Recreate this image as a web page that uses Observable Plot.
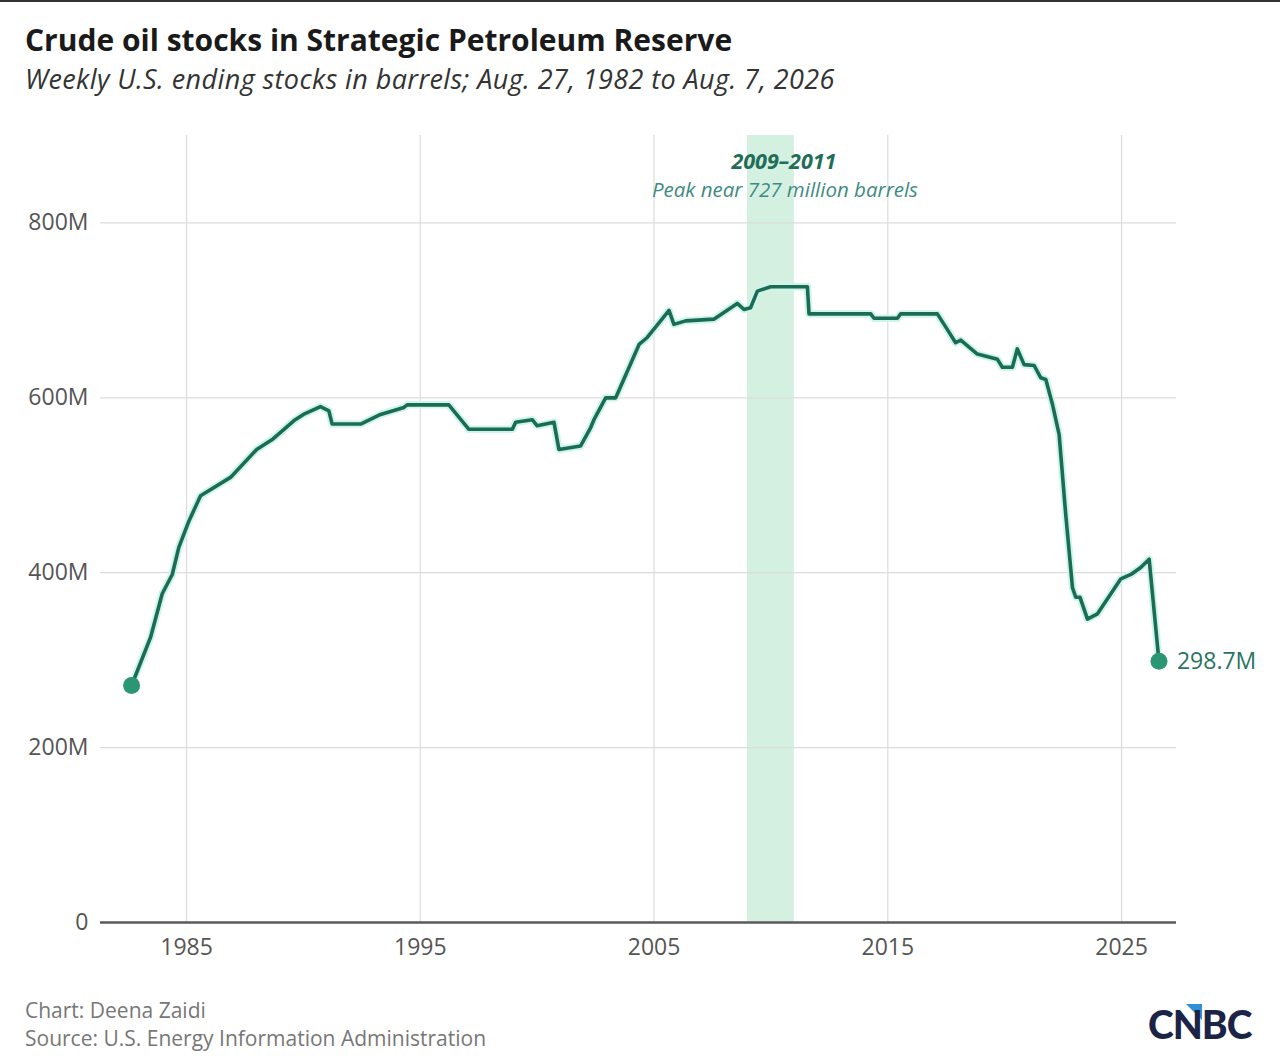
<!DOCTYPE html>
<html>
<head>
<meta charset="utf-8">
<script src="https://cdn.jsdelivr.net/npm/d3@7"></script>
<script src="https://cdn.jsdelivr.net/npm/@observablehq/plot@0.6"></script>
<style>
  html, body { margin:0; padding:0; background:#fff; }
  body { width:1280px; height:1060px; position:relative; overflow:hidden; font-family:"Open Sans", Lato, sans-serif; }
  #topline { position:absolute; left:0; top:0; width:1280px; height:2px; background:#333; }
  #title { position:absolute; left:25px; top:19px; font-size:30px; font-weight:700; color:#1a1a1a; white-space:nowrap; }
  #subtitle { position:absolute; left:25px; top:60px; font-size:27px; font-style:italic; color:#333; white-space:nowrap; letter-spacing:0.4px; }
  #chart { position:absolute; left:0; top:110px; }
  #credit { position:absolute; left:25px; top:996px; font-size:21px; color:#777; line-height:28px; }
  #logo { position:absolute; left:1146px; top:1002px; }
</style>
</head>
<body>
<div id="topline"></div>
<div id="title">Crude oil stocks in Strategic Petroleum Reserve</div>
<div id="subtitle">Weekly U.S. ending stocks in barrels; Aug. 27, 1982 to Aug. 7, 2026</div>
<div id="chart"></div>
<div id="credit">Chart: Deena Zaidi<br>Source: U.S. Energy Information Administration</div>
<svg id="logo" width="115" height="45" viewBox="0 0 115 45">
  <polygon points="40,2 56,2 56,18" fill="#2f8fd8"/>
  <text x="2" y="37" font-family="Lato, sans-serif" font-weight="900" font-size="39" fill="#1b2447" letter-spacing="-1">CNBC</text>
</svg>
<script>
// Decimal year of each reading and SPR stocks (million barrels)
const years = [
  1982.65, 1983.46, 1983.96, 1984.39, 1984.67, 1985.10, 1985.60, 1986.88, 1988.00, 1988.70,
  1989.60, 1990.00, 1990.73, 1991.09, 1991.23, 1992.45, 1993.30, 1994.30, 1994.44, 1996.22,
  1997.08, 1998.94, 1999.08, 1999.79, 2000.00, 2000.72, 2000.93, 2001.86, 2002.29, 2002.43,
  2002.93, 2003.36, 2004.36, 2004.71, 2005.28, 2005.64, 2005.85, 2006.35, 2007.56, 2008.56,
  2008.85, 2009.13, 2009.42, 2009.99, 2011.56, 2011.63, 2014.27, 2014.41, 2015.41, 2015.55,
  2017.12, 2017.55, 2017.90, 2018.12, 2018.83, 2019.69, 2019.90, 2020.33, 2020.54, 2020.83,
  2021.26, 2021.54, 2021.76, 2022.04, 2022.33, 2022.61, 2022.90, 2023.04, 2023.22, 2023.54,
  2023.97, 2024.97, 2025.40, 2025.82, 2026.18, 2026.60
];
const stocks = [
  271, 326, 376, 398, 429, 459, 488, 509, 541, 553,
  574, 581, 590, 585, 570, 570, 581, 589, 592, 592,
  564, 564, 572, 575, 568, 572, 541, 545, 566, 575,
  600, 600, 661, 669, 688, 700, 684, 688, 690, 708,
  701, 703, 722, 727, 727, 696, 696, 691, 691, 696,
  696, 678, 663, 666, 650, 644, 635, 635, 656, 638,
  637, 623, 621, 593, 558, 467, 383, 372, 372, 347,
  353, 393, 398, 406, 415.5, 298.7
];
const xTicks = [1985, 1995, 2005, 2015, 2025];
const yTicks = [0, 200, 400, 600, 800];
const yTickLabels = ["0", "200M", "400M", "600M", "800M"];
const bandStart = [2009];
const bandEnd = [2011];
const bandLabels = ["2009–2011", "Peak near 727 million barrels"];
const endLabel = "298.7M";

const series = years.map((y, i) => ({year: y, value: stocks[i]}));
const endpoints = [series[0], series[series.length - 1]];
const band = bandStart.map((s, i) => ({start: s, end: bandEnd[i], mid: (s + bandEnd[i]) / 2}));

const chart = Plot.plot({
  width: 1280,
  height: 870,
  marginTop: 25,
  marginBottom: 58,
  marginLeft: 100,
  marginRight: 104,
  style: {fontFamily: "'Open Sans', sans-serif", fontSize: "23px", color: "#555", background: "transparent", overflow: "visible"},
  x: {domain: [1981.32, 2027.35], label: null},
  y: {domain: [0, 900], label: null},
  marks: [
    Plot.rect(band, {x1: "start", x2: "end", fill: "#d3f0e1"}),
    Plot.gridX(xTicks, {stroke: "#dcdcdc", strokeOpacity: 1, strokeWidth: 1.2}),
    Plot.gridY(yTicks.filter(d => d > 0), {stroke: "#dcdcdc", strokeOpacity: 1, strokeWidth: 1.2}),
    Plot.axisX(xTicks, {tickSize: 0, tickPadding: 16, tickFormat: d => String(d), fontSize: 23, fill: "#555"}),
    Plot.axisY(yTicks, {tickSize: 0, tickPadding: 12, tickFormat: d => yTickLabels[yTicks.indexOf(d)], fontSize: 23, fill: "#555"}),
    Plot.ruleY([0], {stroke: "#5a5a5a", strokeWidth: 2.5}),
    Plot.line(series, {x: "year", y: "value", stroke: "#cdf5ea", strokeWidth: 7.5, strokeLinejoin: "round"}),
    Plot.line(series, {x: "year", y: "value", stroke: "#1b6b55", strokeWidth: 3.6, strokeLinejoin: "round"}),
    Plot.dot(endpoints, {x: "year", y: "value", r: 8.5, fill: "#2b9673", stroke: "none"}),
    Plot.text([endpoints[1]], {x: "year", y: "value", text: () => endLabel, dx: 18, textAnchor: "start", fill: "#2a7363", fontSize: 23}),
    Plot.text(band, {x: "mid", text: () => bandLabels[0], frameAnchor: "top", dy: 18, dx: 13, fill: "#1f6e59", fontSize: 21.5, fontWeight: 700, fontStyle: "italic"}),
    Plot.text(band, {x: "mid", text: () => bandLabels[1], frameAnchor: "top", dy: 47, dx: 14, fill: "#3e8b80", fontSize: 20.5, fontStyle: "italic"})
  ]
});
document.getElementById("chart").appendChild(chart);
</script>
</body>
</html>
